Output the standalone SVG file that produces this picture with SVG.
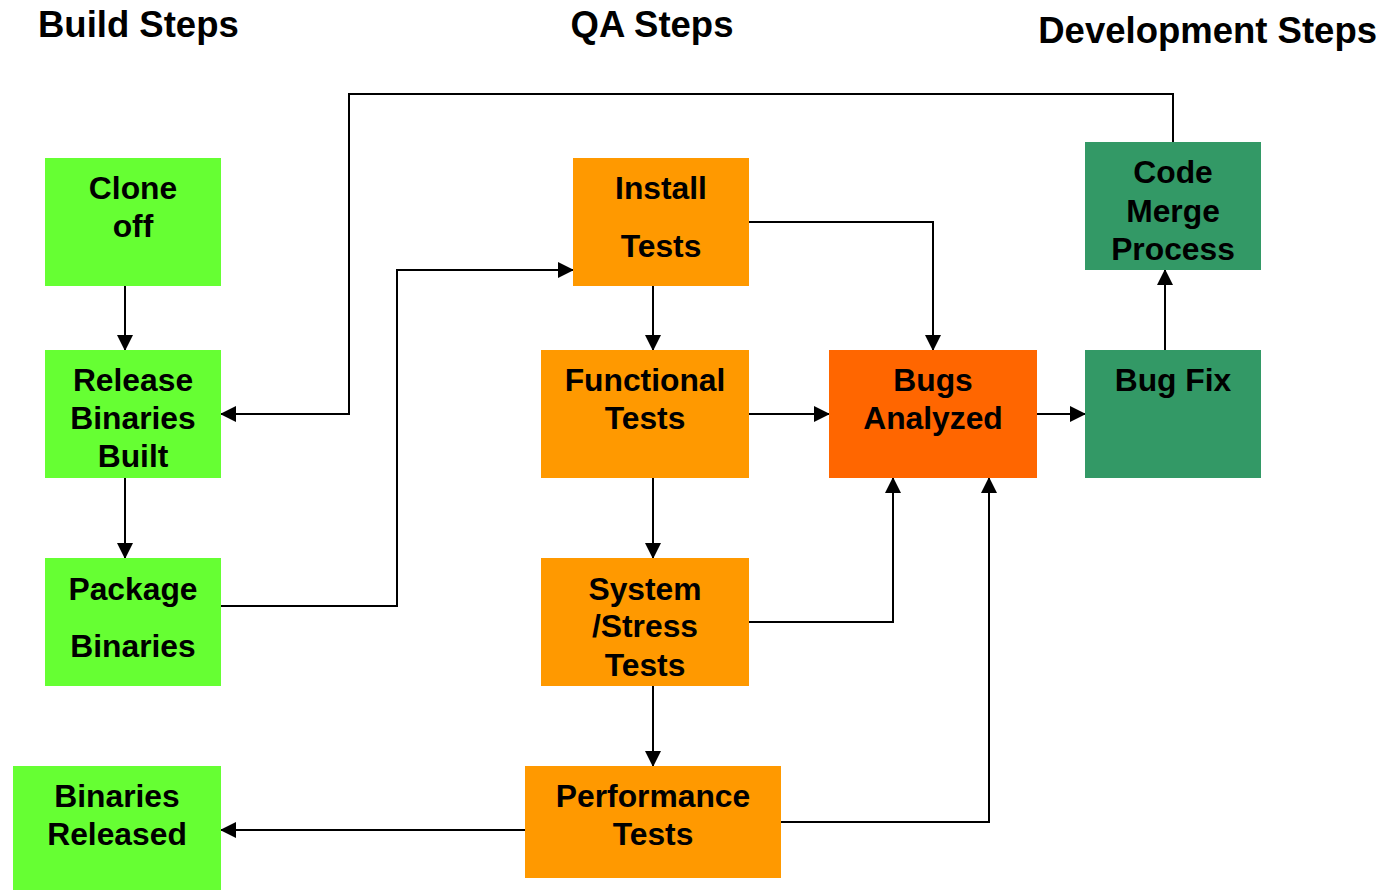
<svg xmlns="http://www.w3.org/2000/svg" width="1387" height="890" viewBox="0 0 1387 890">
<style>
.hdr{font-family:"Liberation Sans",Arial,sans-serif;font-weight:bold;font-size:36.5px;fill:#000}
.lbl{font-family:"Liberation Sans",Arial,sans-serif;font-weight:bold;font-size:31.8px;fill:#000;text-anchor:middle}
.build{fill:#66FF33}
.qa{fill:#FF9900}
.bug{fill:#FF6600}
.dev{fill:#339966}
.conn{fill:none;stroke:#000;stroke-width:2}
</style>
<defs>
<marker id="arr" markerWidth="16" markerHeight="16" refX="15" refY="8" orient="auto" markerUnits="userSpaceOnUse">
<path d="M0,0 L16,8 L0,16 z" fill="#000"/>
</marker>
</defs>
<rect width="1387" height="890" fill="#fff"/>
<text class="hdr" x="38" y="37">Build Steps</text>
<text class="hdr" x="652" y="37" text-anchor="middle">QA Steps</text>
<text class="hdr" x="1377" y="43" text-anchor="end">Development Steps</text>

<g id="connectors">
<path class="conn" d="M125,286 V350" marker-end="url(#arr)"/>
<path class="conn" d="M125,478 V558" marker-end="url(#arr)"/>
<path class="conn" d="M221,606 H397 V270 H573" marker-end="url(#arr)"/>
<path class="conn" d="M653,286 V350" marker-end="url(#arr)"/>
<path class="conn" d="M749,222 H933 V350" marker-end="url(#arr)"/>
<path class="conn" d="M749,414 H829" marker-end="url(#arr)"/>
<path class="conn" d="M653,478 V558" marker-end="url(#arr)"/>
<path class="conn" d="M749,622 H893 V478" marker-end="url(#arr)"/>
<path class="conn" d="M653,686 V766" marker-end="url(#arr)"/>
<path class="conn" d="M781,822 H989 V478" marker-end="url(#arr)"/>
<path class="conn" d="M525,830 H221" marker-end="url(#arr)"/>
<path class="conn" d="M1037,414 H1085" marker-end="url(#arr)"/>
<path class="conn" d="M1165,350 V270" marker-end="url(#arr)"/>
<path class="conn" d="M1173,142 V94 H349 V414 H221" marker-end="url(#arr)"/>
</g>

<g id="clone-off">
<rect class="build" x="45" y="158" width="176" height="128"/>
<text class="lbl" x="133" y="199">Clone</text>
<text class="lbl" x="133" y="237">off</text>
</g>
<g id="release-binaries-built">
<rect class="build" x="45" y="350" width="176" height="128"/>
<text class="lbl" x="133" y="391">Release</text>
<text class="lbl" x="133" y="429">Binaries</text>
<text class="lbl" x="133" y="467">Built</text>
</g>
<g id="package-binaries">
<rect class="build" x="45" y="558" width="176" height="128"/>
<text class="lbl" x="133" y="600">Package</text>
<text class="lbl" x="133" y="657">Binaries</text>
</g>
<g id="binaries-released">
<rect class="build" x="13" y="766" width="208" height="124"/>
<text class="lbl" x="117" y="807">Binaries</text>
<text class="lbl" x="117" y="845">Released</text>
</g>
<g id="install-tests">
<rect class="qa" x="573" y="158" width="176" height="128"/>
<text class="lbl" x="661" y="199">Install</text>
<text class="lbl" x="661" y="257">Tests</text>
</g>
<g id="functional-tests">
<rect class="qa" x="541" y="350" width="208" height="128"/>
<text class="lbl" x="645" y="391">Functional</text>
<text class="lbl" x="645" y="429">Tests</text>
</g>
<g id="system-stress-tests">
<rect class="qa" x="541" y="558" width="208" height="128"/>
<text class="lbl" x="645" y="600">System</text>
<text class="lbl" x="645" y="637">/Stress</text>
<text class="lbl" x="645" y="676">Tests</text>
</g>
<g id="performance-tests">
<rect class="qa" x="525" y="766" width="256" height="112"/>
<text class="lbl" x="653" y="807">Performance</text>
<text class="lbl" x="653" y="845">Tests</text>
</g>
<g id="bugs-analyzed">
<rect class="bug" x="829" y="350" width="208" height="128"/>
<text class="lbl" x="933" y="391">Bugs</text>
<text class="lbl" x="933" y="429">Analyzed</text>
</g>
<g id="bug-fix">
<rect class="dev" x="1085" y="350" width="176" height="128"/>
<text class="lbl" x="1173" y="391">Bug Fix</text>
</g>
<g id="code-merge-process">
<rect class="dev" x="1085" y="142" width="176" height="128"/>
<text class="lbl" x="1173" y="183">Code</text>
<text class="lbl" x="1173" y="222">Merge</text>
<text class="lbl" x="1173" y="260">Process</text>
</g>
</svg>
